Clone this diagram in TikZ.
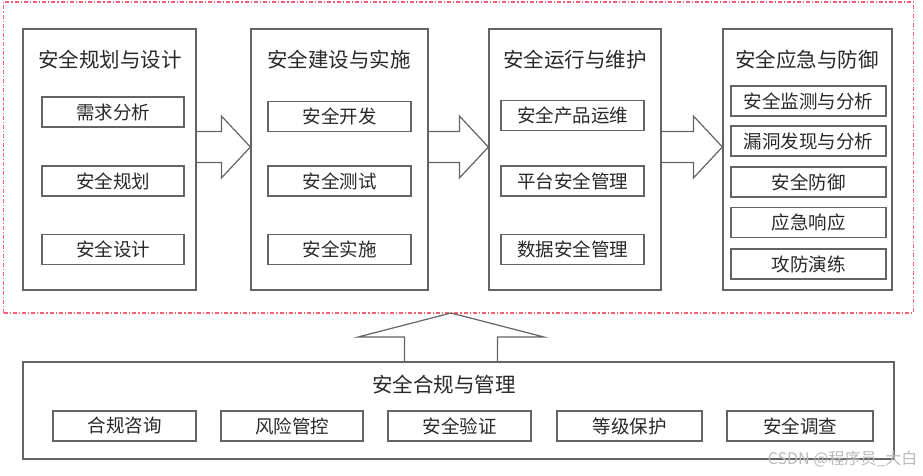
\documentclass[tikz,border=0pt]{standalone}
\usepackage{fontspec}
\newfontfamily\cjk{Noto Sans CJK SC}
\usetikzlibrary{calc,positioning}
\definecolor{linegray}{RGB}{100,100,100}
\definecolor{textgray}{RGB}{40,40,40}
\definecolor{dashred}{RGB}{245,95,115}
\tikzset{
	box/.style={draw=linegray,line width=1.2pt,inner sep=0pt},
	title/.style={font=\cjk\fontsize{20.5}{20.5}\selectfont,text=textgray},
	item/.style={box,minimum height=30pt,font=\cjk\fontsize{18.5}{18.5}\selectfont,text=textgray},
	blockarrow/.style={draw=linegray,line width=1.2pt,line join=miter}
}

\begin{document}
\begin{tikzpicture}[x=1pt,y=-1pt]
\useasboundingbox (0,0) rectangle (923,475);
\node[draw=dashred,dash pattern=on 4pt off 2pt on 1.2pt off 2pt,line width=1.3pt,minimum width=910pt,minimum height=311pt] (outer) at (458.5,157.5) {};
% four stages
\foreach \n/\x/\w/\tx/\txt in {c1/109.5/173/110/安全规划与设计,c2/339.5/177/339/安全建设与实施,c3/575/172/575/安全运行与维护,c4/807.5/169/807/安全应急与防御}
{
	\node[box,minimum width=\w pt,minimum height=261pt] (\n) at (\x,159.5) {};
	\node[title] (\n-t) at (\tx,60) {\txt};
}
\foreach \y/\txt [count=\i] in {112/需求分析,181/安全规划,249.5/安全设计}
	\node[item,minimum width=142pt] (c1-\i) at (113,\y) {\txt};
\foreach \y/\txt [count=\i] in {116.5/安全开发,181/安全测试,249.5/安全实施}
	\node[item,minimum width=143pt] (c2-\i) at (339.5,\y) {\txt};
\foreach \y/\txt [count=\i] in {115.5/安全产品运维,181/平台安全管理,249.5/数据安全管理}
	\node[item,minimum width=143pt] (c3-\i) at (572.5,\y) {\txt};
\foreach \y/\txt [count=\i] in {101/安全监测与分析,141/漏洞发现与分析,182/安全防御,222.5/应急响应,264/攻防演练}
	\node[item,minimum width=155pt] (c4-\i) at (808.5,\y) {\txt};
% arrows between stages
\foreach \a/\b in {c1/c2,c2/c3,c3/c4}
{
	\coordinate (tip) at ($(\b.west)+(0,-12.5)$);
	\draw[blockarrow] ($(tip -| \a.east)+(0,-15.5)$) -- ($(tip)+(-29,-15.5)$) -- ($(tip)+(-29,-31)$) -- (tip)
		-- ($(tip)+(-29,31)$) -- ($(tip)+(-29,15.5)$) -- ($(tip -| \a.east)+(0,15.5)$);
}
% compliance base
\node[box,minimum width=871pt,minimum height=97pt] (base) at (458.5,410.5) {};
\node[title] (base-t) at (444,385) {安全合规与管理};
\foreach \x/\w/\txt [count=\i] in {124.5/143/合规咨询,292/142/风险管控,459.5/143/安全验证,629.5/145/等级保护,800/146/安全调查}
	\node[item,minimum width=\w pt] (b-\i) at (\x,426) {\txt};
\coordinate (uptip) at (451,313);
\draw[blockarrow] ($(uptip |- base.north)+(-46.5,0)$) -- ($(uptip)+(-46.5,24)$) -- ($(uptip)+(-93,24)$) -- (uptip)
	-- ($(uptip)+(93,24)$) -- ($(uptip)+(46.5,24)$) -- ($(uptip |- base.north)+(46.5,0)$);
\node[font=\cjk\fontsize{16}{16}\selectfont,text=gray!55,anchor=east] (mark) at (921,459) {CSDN @程序员\_大白};
\end{tikzpicture}
\end{document}
